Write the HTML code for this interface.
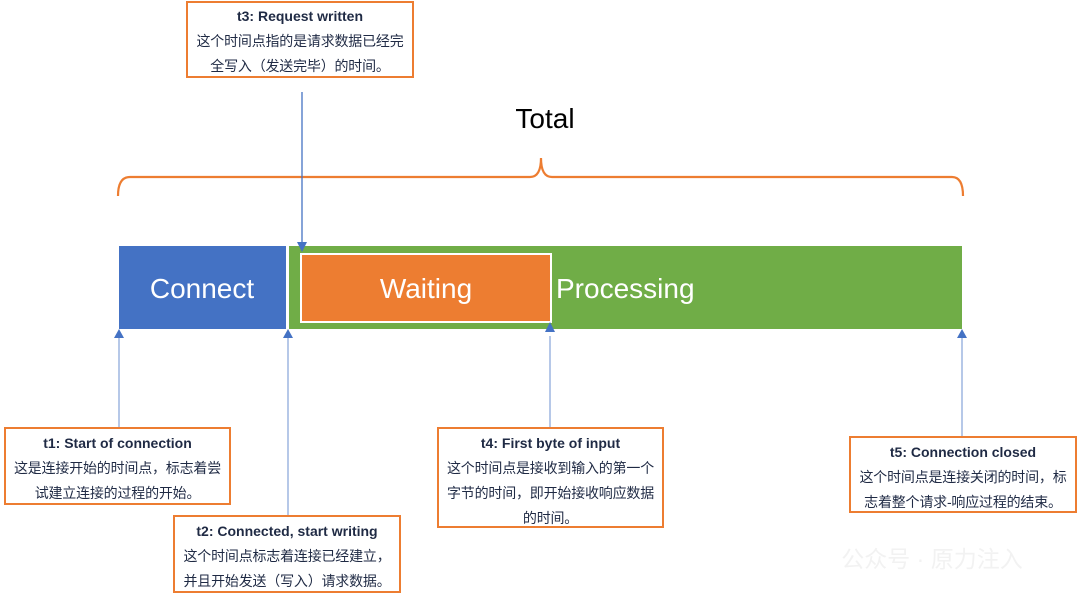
<!DOCTYPE html>
<html><head><meta charset="utf-8"><style>
html,body{margin:0;padding:0;background:#fff;}
svg text{font-family:"Liberation Sans","Noto Sans CJK SC",sans-serif;}
.box{position:absolute;background:#fff;border:2px solid #ED7D31;box-sizing:border-box;text-align:center;color:#1f2a44;font-family:"Liberation Sans","Noto Sans CJK SC",sans-serif;font-size:14px;line-height:25px;white-space:nowrap;letter-spacing:-0.2px;}
.box b{font-size:14px;letter-spacing:0;}
</style></head><body>
<div style="position:relative;width:1080px;height:602px;overflow:hidden;">
<svg width="1080" height="602" style="position:absolute;left:0;top:0">
<rect x="119" y="246" width="167" height="83" fill="#4472C4"/>
<rect x="289" y="246" width="673" height="83" fill="#70AD47"/>
<rect x="301" y="254" width="250" height="68" fill="#ED7D31" stroke="#fff" stroke-width="2"/>
<text x="202" y="298" font-size="28" fill="#fff" text-anchor="middle">Connect</text>
<text x="426" y="298" font-size="28" fill="#fff" text-anchor="middle">Waiting</text>
<text x="556" y="298" font-size="28" fill="#fff">Processing</text>
<text x="545" y="128" font-size="28" fill="#000" text-anchor="middle">Total</text>
<path d="M118,196 Q118,177 130,177 L530,177 Q541,177 541,158 Q541,177 552,177 L952,177 Q963,177 963,196" fill="none" stroke="#ED7D31" stroke-width="2.2"/>
<g stroke="#8FAADC" stroke-width="1.3">
<line x1="302" y1="92" x2="302" y2="244" stroke="#4472C4"/>
<line x1="119" y1="428" x2="119" y2="336"/>
<line x1="288" y1="515" x2="288" y2="336"/>
<line x1="550" y1="428" x2="550" y2="336"/>
<line x1="962" y1="436" x2="962" y2="336"/>
</g>
<g fill="#4472C4">
<polygon points="297,242 307,242 302,252"/>
<polygon points="114,338 124,338 119,329"/>
<polygon points="283,338 293,338 288,329"/>
<polygon points="545,332 555,332 550,322"/>
<polygon points="957,338 967,338 962,329"/>
</g>
<text x="932" y="567" font-size="23" fill="#f2f2f2" text-anchor="middle">公众号 · 原力注入</text>
</svg>
<div class="box" style="left:186px;top:1px;width:228px;height:77px;padding-top:1px"><b>t3: Request written</b><br>这个时间点指的是请求数据已经完<br>全写入（发送完毕）的时间。</div>
<div class="box" style="left:4px;top:427px;width:227px;height:78px;padding-top:2px"><b>t1: Start of connection</b><br>这是连接开始的时间点，标志着尝<br>试建立连接的过程的开始。</div>
<div class="box" style="left:173px;top:515px;width:228px;height:78px;padding-top:2px"><b>t2: Connected, start writing</b><br>这个时间点标志着连接已经建立，<br>并且开始发送（写入）请求数据。</div>
<div class="box" style="left:437px;top:427px;width:227px;height:101px;padding-top:2px"><b>t4: First byte of input</b><br>这个时间点是接收到输入的第一个<br>字节的时间，即开始接收响应数据<br>的时间。</div>
<div class="box" style="left:849px;top:436px;width:228px;height:77px;padding-top:2px"><b>t5: Connection closed</b><br>这个时间点是连接关闭的时间，标<br>志着整个请求-响应过程的结束。</div>
</div>
</body></html>
